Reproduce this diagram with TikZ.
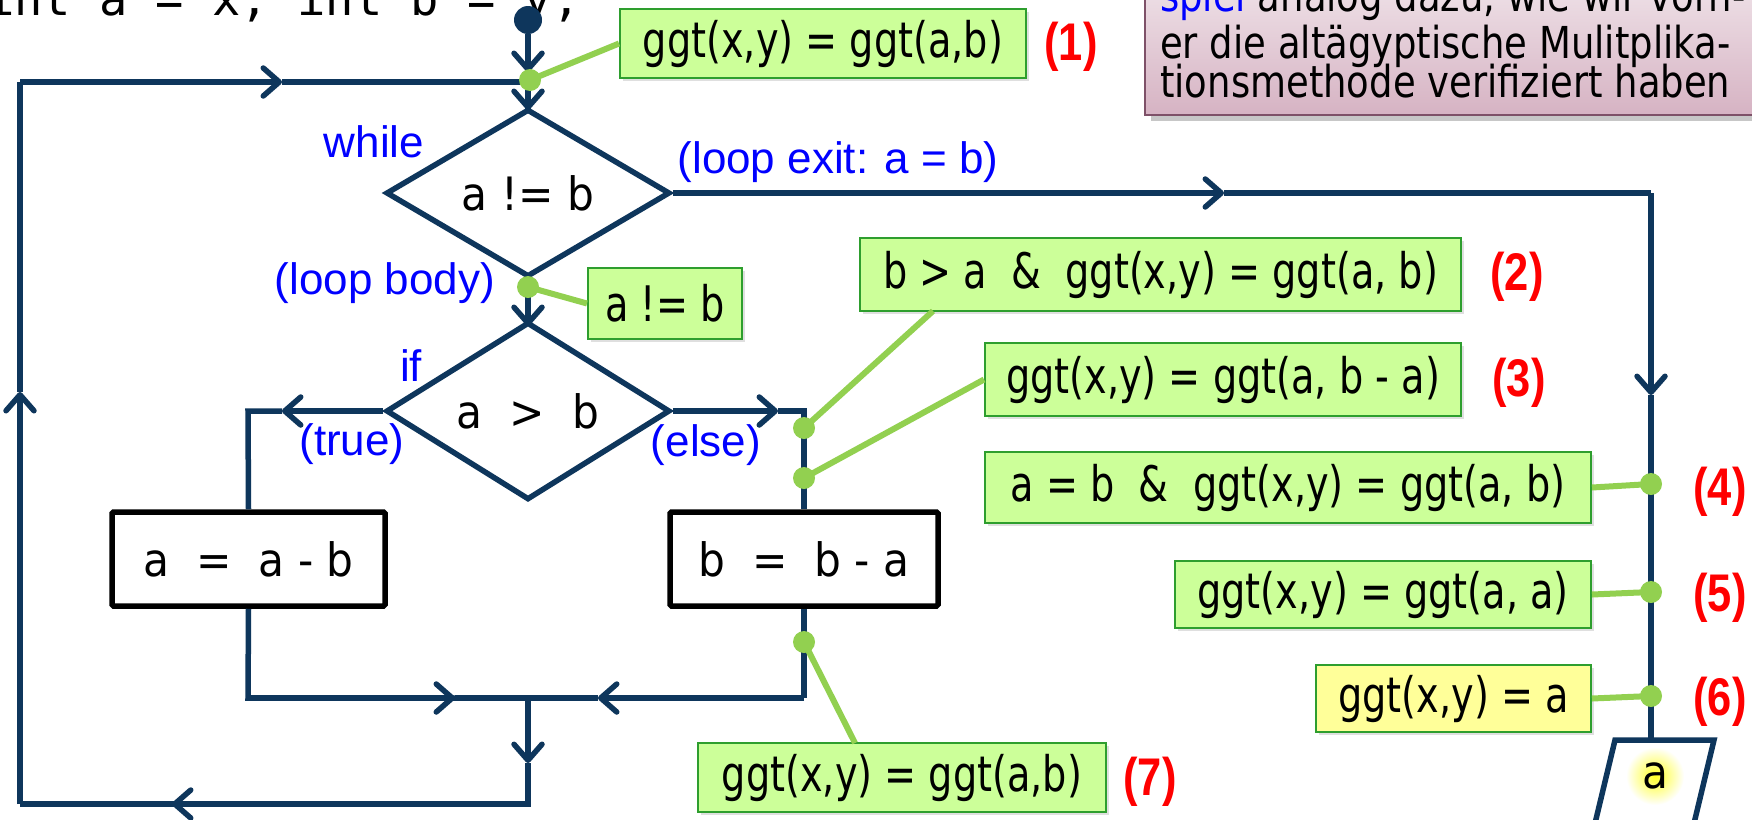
\documentclass[tikz,border=0pt]{standalone}
\usepackage{fontspec}
\setmainfont{Liberation Sans}
\newfontfamily\boxfont{DejaVu Sans}[FakeStretch=0.78]
\newfontfamily\notefont{DejaVu Sans}[FakeStretch=0.84]
\newfontfamily\flowfont{DejaVu Sans}[FakeStretch=0.92]
\newfontfamily\codefont{DejaVu Sans Mono}
\newfontfamily\redfont{Liberation Sans}[FakeStretch=0.82]
\usetikzlibrary{arrows.meta,shadows,shapes.geometric}
\definecolor{navy}{HTML}{0E365C}
\definecolor{gfill}{HTML}{CCFF99}
\definecolor{gdraw}{HTML}{2E9E2E}
\definecolor{conn}{HTML}{92D050}
\definecolor{yfill}{HTML}{FFFF99}
\definecolor{lblue}{HTML}{0000FF}
\definecolor{lred}{HTML}{FF0000}
\definecolor{pinktop}{HTML}{EFE2E8}
\definecolor{pinkbot}{HTML}{D6B3C3}
\definecolor{pinkdraw}{HTML}{7E5168}
\begin{document}
\begin{tikzpicture}[x=1pt,y=-1pt,
  flow/.style={draw=navy, line width=5.5pt},
  tip/.style={-{Straight Barb[length=16pt,width=28pt,round]}},
  dec/.style={diamond, draw=navy, line width=5.5pt, minimum width=284pt, minimum height=136pt, inner sep=0pt, text=black, font=\flowfont\fontsize{46}{50}\selectfont},
  proc/.style={rectangle, draw=black, line width=5.5pt, inner sep=0pt, rounded corners=1.5pt, text=black, font=\flowfont\fontsize{46}{50}\selectfont},
  gbox/.style={rectangle, draw=gdraw, line width=2pt, fill=gfill, inner sep=0pt, text=black, font=\boxfont\fontsize{49}{52}\selectfont, drop shadow={opacity=0.25, shadow xshift=3pt, shadow yshift=-3pt}},
  ybox/.style={gbox, fill=yfill},
  conline/.style={draw=conn, line width=6pt},
  gdot/.style={circle, fill=conn, minimum size=22pt, inner sep=0pt},
  lbl/.style={text=lblue, inner sep=0pt, font=\fontsize{44}{48}\selectfont},
  num/.style={text=lred, inner sep=0pt, font=\redfont\bfseries\fontsize{53}{56}\selectfont},
  note/.style={anchor=base west, inner sep=0pt, font=\notefont\fontsize{44}{44}\selectfont}
]
\clip (0,0) rectangle (1752,819);
\fill[white] (0,0) rectangle (1752,819);

% code line (cut at top)
\node[anchor=base west, inner sep=0pt, font=\codefont\fontsize{47}{50}\selectfont] (code) at (-14,15) {int a = x; int b = y;};

% note box (cut at top/right)
\fill[black, opacity=0.22] (1151,-14) rectangle (1796,121);
\shade[top color=pinktop, bottom color=pinkbot] (1145,-20) rectangle (1790,115);
\draw[pinkdraw, line width=2pt] (1145,-20) rectangle (1790,115);
\node[note] (p1) at (1160,12) {\textcolor{lblue}{spiel} analog dazu, wie wir vorh-};
\node[note] (p2) at (1160,58) {er die altägyptische Mulitplika-};
\node[note] (p3) at (1160,97) {tionsmethode verifiziert haben};

% flow nodes
\node[circle, fill=navy, minimum size=28pt, inner sep=0pt] (s) at (528,20) {};
\node[dec] (w) at (528,193) {a != b};
\node[dec] (i) at (528,411) {a\ \ >\ \ b};
\node[proc, minimum width=273pt, minimum height=94pt] (pa) at (248.5,559) {a\ \ =\ \ a - b};
\node[proc, minimum width=268pt, minimum height=94pt] (pb) at (804,559) {b\ \ =\ \ b - a};

% coordinates
\coordinate (a0) at (528,72);
\coordinate (j1) at (528,82);
\coordinate (a1) at (528,110);
\coordinate (a2) at (528,326);
\coordinate (a3) at (282,411);
\coordinate (c3) at (248,411);
\coordinate (c4) at (248,698);
\coordinate (a4) at (455,698);
\coordinate (j2) at (528,698);
\coordinate (a5) at (778,411);
\coordinate (c5) at (804,411);
\coordinate (c6) at (804,698);
\coordinate (a6) at (598,698);
\coordinate (a7) at (528,763);
\coordinate (j3) at (528,804);
\coordinate (a8) at (172,804);
\coordinate (c8) at (20,804);
\coordinate (a9) at (20,392);
\coordinate (c9) at (20,82);
\coordinate (a10) at (282,82);
\coordinate (a11) at (1224,193);
\coordinate (c11) at (1651,193);
\coordinate (a12) at (1651,395);
\coordinate (ptop) at (1651,740);

% flow lines
\draw[flow, tip] (s) -- (a0);
\draw[flow] (a0) -- (j1);
\draw[flow, tip] (j1) -- (a1);
\draw[flow] (a1) -- (w.north);
\draw[flow, tip] (w.south) -- (a2);
\draw[flow] (a2) -- (i.north);
\draw[flow, tip] (i.west) -- (a3);
\draw[flow] (a3) -- (c3) -- (pa.north);
\draw[flow] (pa.south) -- (c4) -- (a4);
\draw[flow, tip] (c4) -- (a4);
\draw[flow] (a4) -- (j2);
\draw[flow, tip] (i.east) -- (a5);
\draw[flow] (a5) -- (c5) -- (pb.north);
\draw[flow] (pb.south) -- (c6);
\draw[flow, tip] (c6) -- (a6);
\draw[flow] (a6) -- (j2);
\draw[flow, tip] (j2) -- (a7);
\draw[flow] (a7) -- (j3) -- (a8);
\draw[flow, tip] (j3) -- (a8);
\draw[flow] (a8) -- (c8);
\draw[flow, tip] (c8) -- (a9);
\draw[flow] (a9) -- (c9);
\draw[flow, tip] (c9) -- (a10);
\draw[flow] (a10) -- (j1);
\draw[flow, tip] (w.east) -- (a11);
\draw[flow] (a11) -- (c11);
\draw[flow, tip] (c11) -- (a12);
\draw[flow] (a12) -- (ptop);

% output parallelogram
\shade[inner color=yellow!85, outer color=white] (1655,776) circle (29);
\draw[navy, line width=5.5pt, line join=miter] (1615,740) -- (1714,740) -- (1690,840) -- (1591,840) -- cycle;
\node[inner sep=0pt, text=black, font=\flowfont\fontsize{46}{50}\selectfont] (out) at (1655,776) {a};

% labels
\node[lbl] (lwhile) at (374,142) {while};
\node[lbl] (lexit) at (838,162) {(loop exit: a = b)};
\node[lbl] (lbody) at (385,283) {(loop body)};
\node[lbl] (lif) at (411,366) {if};
\node[lbl] (ltrue) at (352,444) {(true)};
\node[lbl] (lelse) at (706,445) {(else)};

% annotation boxes
\node[gbox, minimum width=406pt, minimum height=69pt] (b1) at (823,43.5) {ggt(x,y) = ggt(a,b)};
\node[gbox, minimum width=154pt, minimum height=71pt] (bab) at (665,303.5) {a != b};
\node[gbox, minimum width=601pt, minimum height=73pt] (b2) at (1160.5,274.5) {b > a\ \ \&\ \ ggt(x,y) = ggt(a, b)};
\node[gbox, minimum width=476pt, minimum height=73pt] (b3) at (1223,379.5) {ggt(x,y) = ggt(a, b - a)};
\node[gbox, minimum width=606pt, minimum height=71pt] (b4) at (1288,487.5) {a = b\ \ \&\ \ ggt(x,y) = ggt(a, b)};
\node[gbox, minimum width=416pt, minimum height=67pt] (b5) at (1383,594.5) {ggt(x,y) = ggt(a, a)};
\node[ybox, minimum width=275pt, minimum height=67pt] (b6) at (1453.5,698.5) {ggt(x,y) = a};
\node[gbox, minimum width=408pt, minimum height=69pt] (b7) at (902,777.5) {ggt(x,y) = ggt(a,b)};
\coordinate (b2foot) at (933,311);
\coordinate (b7top) at (855,743);

% dots
\node[gdot] (g1) at (530,80) {};
\node[gdot] (g2) at (528,287) {};
\node[gdot] (ge1) at (804,428) {};
\node[gdot] (ge2) at (804,478) {};
\node[gdot] (g7) at (804,642) {};
\node[gdot] (g4) at (1651,484) {};
\node[gdot] (g5) at (1651,592) {};
\node[gdot] (g6) at (1651,696) {};

% connectors
\draw[conline] (g1.center) -- (b1.west);
\draw[conline] (g2.center) -- (bab.west);
\draw[conline] (ge1.center) -- (b2foot);
\draw[conline] (ge2.center) -- (b3.west);
\draw[conline] (g7.center) -- (b7top);
\draw[conline] (g4.center) -- (b4.east);
\draw[conline] (g5.center) -- (b5.east);
\draw[conline] (g6.center) -- (b6.east);

% numbers
\node[num] (n1) at (1071,47) {(1)};
\node[num] (n2) at (1517,277) {(2)};
\node[num] (n3) at (1519,383) {(3)};
\node[num] (n4) at (1720,492) {(4)};
\node[num] (n5) at (1720,598) {(5)};
\node[num] (n6) at (1720,702) {(6)};
\node[num] (n7) at (1150,782) {(7)};
\end{tikzpicture}
\end{document}
